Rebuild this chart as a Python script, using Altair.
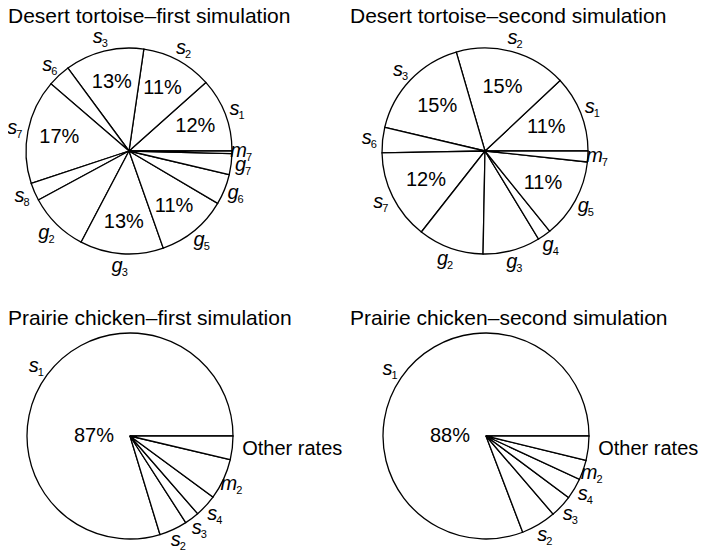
import math
import altair as alt
import pandas as pd

# Slice shares (percent of the full circle), read counter-clockwise from 3 o'clock
dt1_title = "Desert tortoise–first simulation"
dt1_letter = ["s", "s", "s", "s", "s", "s", "g", "g", "g", "g", "g", "m"]
dt1_sub = ["1", "2", "3", "6", "7", "8", "2", "3", "5", "6", "7", "7"]
dt1_share = [11.6, 11.1, 12.4, 3.6, 16.4, 2.8, 9.4, 13.1, 11.1, 4.8, 3.3, 0.4]
dt1_pct = ["12%", "11%", "13%", "", "17%", "", "", "13%", "11%", "", "", ""]

dt2_title = "Desert tortoise–second simulation"
dt2_letter = ["s", "s", "s", "s", "s", "g", "g", "g", "g", "m"]
dt2_sub = ["1", "2", "3", "6", "7", "2", "3", "4", "5", "7"]
dt2_share = [12.0, 17.5, 16.8, 4.0, 14.1, 10.3, 9.0, 2.1, 12.5, 1.7]
dt2_pct = ["11%", "15%", "15%", "", "12%", "", "", "", "11%", ""]

pc1_title = "Prairie chicken–first simulation"
pc1_letter = ["s", "s", "s", "s", "m", ""]
pc1_sub = ["1", "2", "3", "4", "2", ""]
pc1_other = ["", "", "", "", "", "Other rates"]
pc1_share = [79.7, 4.4, 2.3, 3.5, 6.4, 3.7]
pc1_main = "87%"

pc2_title = "Prairie chicken–second simulation"
pc2_letter = ["s", "s", "s", "s", "m", ""]
pc2_sub = ["1", "2", "3", "4", "2", ""]
pc2_other = ["", "", "", "", "", "Other rates"]
pc2_share = [80.8, 5.5, 3.5, 3.3, 3.1, 3.8]
pc2_main = "88%"

FONT = "Liberation Sans"


def panel(title, letters, subs, shares, pcts, others, cx, cy, w, h, title_y,
          pct_r=70, main_pct=None, clip_labels=False):
    n = len(shares)
    df = pd.DataFrame({
        "idx": list(range(n)),
        "share": shares,
        "letter": letters,
        "sub": subs,
        "pct": pcts if pcts else [""] * n,
        "other": others if others else [""] * n,
    })
    total = sum(shares)
    theta = alt.Theta("share:Q", stack=True,
                      scale=alt.Scale(domain=[0, total], nice=False,
                                      range=[math.pi / 2, math.pi / 2 - 2 * math.pi]))
    base = alt.Chart(df).encode(theta=theta, order=alt.Order("idx:Q"),
                                x=alt.value(cx), y=alt.value(cy))
    arcs = base.mark_arc(radius=103, fill="white", stroke="black", strokeWidth=1.3)
    let = base.mark_text(radius=116, align="right", baseline="alphabetic", dx=2, dy=5,
                         font=FONT, fontSize=20, fontStyle="italic", clip=clip_labels,
                         color="black").encode(text="letter:N")
    sub = base.mark_text(radius=116, align="left", baseline="alphabetic", dx=1, dy=9,
                         font=FONT, fontSize=11, color="black",
                         clip=clip_labels).encode(text="sub:N")
    oth = base.mark_text(radius=111, align="left", baseline="middle", dx=2,
                         font=FONT, fontSize=20, color="black").encode(text="other:N")
    pct = base.mark_text(radius=pct_r, align="center", baseline="middle",
                         font=FONT, fontSize=20, color="black").encode(text="pct:N")
    layers = [arcs, let, sub, oth, pct]
    ttl = alt.Chart(pd.DataFrame({"t": [title]})).mark_text(
        align="left", baseline="alphabetic", font=FONT, fontSize=21, color="black",
        clip=True
    ).encode(x=alt.value(0), y=alt.value(title_y), text="t:N")
    layers.append(ttl)
    if main_pct:
        mp = alt.Chart(pd.DataFrame({"t": [main_pct]})).mark_text(
            align="center", baseline="middle", font=FONT, fontSize=20, color="black", dx=-36
        ).encode(x=alt.value(cx), y=alt.value(cy), text="t:N")
        layers.append(mp)
    return alt.layer(*layers).properties(width=w, height=h)


p1 = panel(dt1_title, dt1_letter, dt1_sub, dt1_share, dt1_pct, None,
           121, 143, 342, 285, 15, pct_r=71, clip_labels=True)
p2 = panel(dt2_title, dt2_letter, dt2_sub, dt2_share, dt2_pct, None,
           135, 143, 350, 285, 15, pct_r=66)
p3 = panel(pc1_title, pc1_letter, pc1_sub, pc1_share, None, pc1_other,
           122, 143, 342, 240, 32, main_pct=pc1_main)
p4 = panel(pc2_title, pc2_letter, pc2_sub, pc2_share, None, pc2_other,
           136, 143, 350, 240, 32, main_pct=pc2_main)

chart = alt.concat(p1, p2, p3, p4, columns=2, spacing=0, bounds="flush").properties(
    padding={"left": 0, "top": 0, "right": 0, "bottom": 0},
).configure_view(stroke=None)

chart.save("out.html", embed_options={"renderer": "svg", "actions": False})
